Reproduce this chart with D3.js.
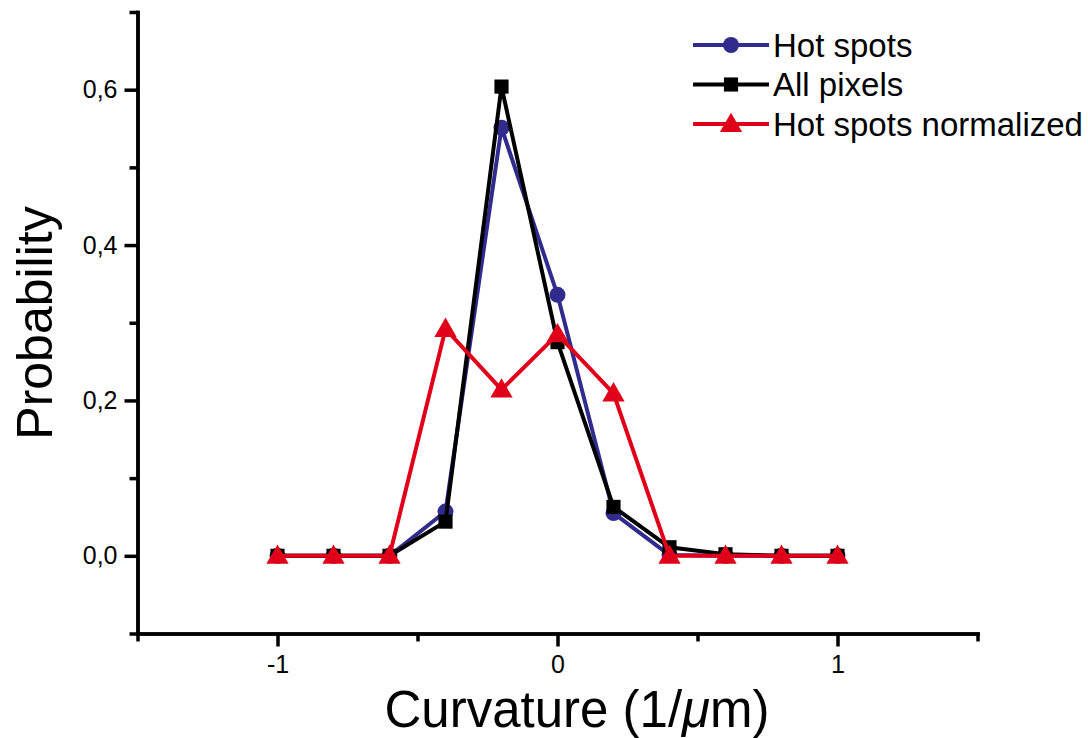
<!DOCTYPE html>
<html>
<head>
<meta charset="utf-8">
<script src="https://cdn.jsdelivr.net/npm/d3@7"></script>
<style>
  body { margin: 0; background: #fff; }
  svg { display: block; font-family: "Liberation Sans", Arial, Helvetica, sans-serif; }
</style>
</head>
<body>
<svg id="svg1"></svg>
<script>
// data
const curvature = [-1, -0.8, -0.6, -0.4, -0.2, 0, 0.2, 0.4, 0.6, 0.8, 1];
const hotSpots = [0, 0, 0, 0.057, 0.551, 0.336, 0.055, 0.001, 0, 0, 0];
const allPixels = [0, 0, 0, 0.044, 0.604, 0.275, 0.063, 0.011, 0.002, 0, 0];
const hotSpotsNorm = [0, 0, 0, 0.292, 0.214, 0.285, 0.209, 0, 0, 0, 0];
const seriesNames = ["Hot spots", "All pixels", "Hot spots normalized"];
const xMajorTicks = [-1, 0, 1];
const xMinorTicks = [-1.5, -0.5, 0.5, 1.5];
const yMajorTicks = [0, 0.2, 0.4, 0.6];
const yMinorTicks = [-0.1, 0.1, 0.3, 0.5, 0.7];

const W = 1088, H = 738;
const svg = d3.select("#svg1").attr("width", W).attr("height", H);

const xScale = d3.scaleLinear().domain([-1.5, 1.5]).range([137.5, 977.5]);
const yScale = d3.scaleLinear().domain([-0.1, 0.7]).range([633.5, 12]);

const fmtY = v => d3.format(".1f")(v).replace(".", ",");
const fmtX = v => String(v);

function styleAxis(g) {
  g.selectAll("path, line").style("stroke", "#000").style("stroke-width", "3.5px");
  g.select(".domain").style("stroke-linecap", "square");
  g.selectAll("text").style("font-size", "25px").style("fill", "#000")
    .style("font-family", '"Liberation Sans", Arial, sans-serif');
}

// y axis
svg.append("g")
  .attr("transform", `translate(${xScale(-1.5)},0)`)
  .call(d3.axisLeft(yScale).tickValues(yMinorTicks).tickSize(8).tickSizeOuter(0).tickFormat(""))
  .call(styleAxis);
svg.append("g")
  .attr("transform", `translate(${xScale(-1.5)},0)`)
  .call(d3.axisLeft(yScale).tickValues(yMajorTicks).tickSize(13).tickSizeOuter(0).tickPadding(7).tickFormat(fmtY))
  .call(styleAxis);

// x axis
svg.append("g")
  .attr("transform", `translate(0,${yScale(-0.1)})`)
  .call(d3.axisBottom(xScale).tickValues(xMinorTicks).tickSize(8).tickSizeOuter(0).tickFormat(""))
  .call(styleAxis);
svg.append("g")
  .attr("transform", `translate(0,${yScale(-0.1)})`)
  .call(d3.axisBottom(xScale).tickValues(xMajorTicks).tickSize(13).tickSizeOuter(0).tickPadding(9).tickFormat(fmtX))
  .call(styleAxis);

// axis titles
svg.append("text")
  .attr("x", 577).attr("y", 727)
  .attr("text-anchor", "middle")
  .style("font-size", "51px")
  .html('Curvature (1/<tspan font-style="italic">μ</tspan>m)');

svg.append("text")
  .attr("transform", "translate(52,323) rotate(-90)")
  .attr("text-anchor", "middle")
  .style("font-size", "50px")
  .text("Probability");

const series = [
  { name: seriesNames[0], values: hotSpots, color: "#302b8c", marker: "circle" },
  { name: seriesNames[1], values: allPixels, color: "#000000", marker: "square" },
  { name: seriesNames[2], values: hotSpotsNorm, color: "#e1001a", marker: "triangle" }
];

const symbolFor = {
  circle: d3.symbol().type(d3.symbolCircle).size(200),
  square: d3.symbol().type(d3.symbolSquare).size(200),
  triangle: d3.symbol().type(d3.symbolTriangle).size(215)
};

const line = d3.line()
  .x(d => xScale(d[0]))
  .y(d => yScale(d[1]));

series.forEach(function(s) {
  const pts = curvature.map((c, i) => [c, s.values[i]]);
  const g = svg.append("g");
  g.append("path")
    .datum(pts)
    .attr("fill", "none")
    .attr("stroke", s.color)
    .attr("stroke-width", 4)
    .attr("stroke-linejoin", "round")
    .attr("d", line);
  g.selectAll(".pt")
    .data(pts)
    .enter().append("path")
    .attr("class", "pt")
    .attr("fill", s.color)
    .attr("transform", d => `translate(${xScale(d[0])},${yScale(d[1]) + (s.marker === "triangle" ? 1.5 : 0)})`)
    .attr("d", symbolFor[s.marker]());
});

// legend
const legend = svg.append("g");
series.forEach(function(s, i) {
  const y = 45 + i * 39.5;
  legend.append("line")
    .attr("x1", 693).attr("x2", 769)
    .attr("y1", y).attr("y2", y)
    .attr("stroke", s.color).attr("stroke-width", 4);
  legend.append("path")
    .attr("fill", s.color)
    .attr("transform", `translate(731,${y + (s.marker === "triangle" ? 1.5 : 0)})`)
    .attr("d", symbolFor[s.marker]());
  legend.append("text")
    .attr("x", 773).attr("y", y)
    .attr("dy", "0.36em")
    .style("font-size", "33px")
    .text(s.name);
});
</script>
</body>
</html>
